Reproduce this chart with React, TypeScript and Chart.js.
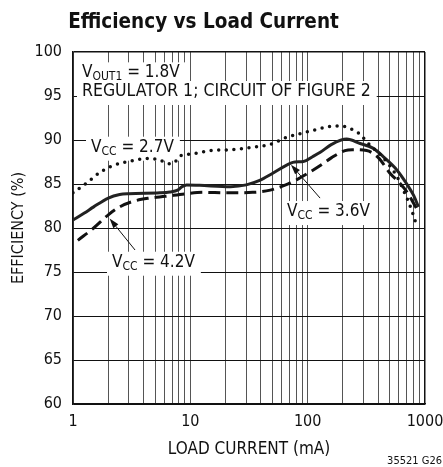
import { useEffect, useRef } from "react";
import { Chart, registerables } from "chart.js";

Chart.register(...registerables);

// ---------- text ----------
const TITLE = "Efficiency vs Load Current";
const X_TITLE = "LOAD CURRENT (mA)";
const Y_TITLE = "EFFICIENCY (%)";
const FOOTNOTE = "35521 G26";

// ---------- axes ----------
const X_MIN = 1;
const X_MAX = 1000;
const X_GRID = [
  1, 2, 3, 4, 5, 6, 7, 8, 9,
  10, 20, 30, 40, 50, 60, 70, 80, 90,
  100, 200, 300, 400, 500, 600, 700, 800, 900,
  1000,
];
const X_LABELS = [1, 10, 100, 1000];
const Y_MIN = 60;
const Y_MAX = 100;
const Y_STEP = 5;

// ---------- series: load current (mA) and efficiency (%) ----------
const I_27 = [1, 1.3, 1.65, 2.1, 3.2, 4.4, 5.5, 6.6, 7.4, 8.2, 10, 15, 22, 35, 48, 66, 85, 112, 150, 190, 230, 271, 340, 420, 505, 580, 655, 771, 861];
const EFF_27 = [84.0, 85.1, 86.2, 87.0, 87.65, 87.9, 87.7, 87.3, 87.5, 88.2, 88.4, 88.8, 88.9, 89.2, 89.5, 90.3, 90.7, 91.1, 91.5, 91.6, 91.3, 90.8, 89.4, 88.3, 87.0, 85.8, 84.3, 82.0, 80.0];

const I_36 = [1, 1.25, 1.5, 2.0, 2.5, 3.0, 5.5, 6.7, 7.8, 8.5, 9.3, 12, 22, 30, 39, 50, 71, 78, 92, 110, 128, 160, 215, 280, 363, 450, 575, 700, 800, 880];
const EFF_36 = [80.9, 81.7, 82.4, 83.4, 83.8, 83.9, 84.0, 84.1, 84.3, 84.7, 84.9, 84.85, 84.7, 84.9, 85.4, 86.2, 87.35, 87.5, 87.55, 88.1, 88.6, 89.5, 90.1, 89.6, 89.05, 88.0, 86.6, 85.0, 83.7, 82.4];

const I_42 = [1.1, 1.5, 2.0, 2.5, 3.2, 4.5, 6.1, 9.3, 13, 20, 34, 48, 65, 81, 100, 128, 160, 208, 240, 318, 400, 505, 600, 700, 850];
const EFF_42 = [78.6, 80.0, 81.5, 82.4, 83.0, 83.4, 83.6, 83.9, 84.05, 84.0, 84.05, 84.3, 84.9, 85.5, 86.2, 87.1, 88.0, 88.8, 88.9, 88.8, 88.0, 86.2, 85.2, 84.1, 82.2];

// ---------- annotations (anchored in data coordinates) ----------
type Part = [string, boolean];
const NOTE_VOUT: Part[] = [["V", false], ["OUT1", true], [" = 1.8V", false]];
const NOTE_REG: Part[] = [["REGULATOR 1; CIRCUIT OF FIGURE 2", false]];
const NOTE_27: Part[] = [["V", false], ["CC", true], [" = 2.7V", false]];
const NOTE_36: Part[] = [["V", false], ["CC", true], [" = 3.6V", false]];
const NOTE_42: Part[] = [["V", false], ["CC", true], [" = 4.2V", false]];

const NOTES: { parts: Part[]; at: [number, number]; size: number }[] = [
  { parts: NOTE_VOUT, at: [1.193, 97.12], size: 17 },
  { parts: NOTE_REG, at: [1.193, 95.0], size: 17.5 },
  { parts: NOTE_27, at: [1.424, 88.67], size: 17 },
  { parts: NOTE_36, at: [66.7, 81.36], size: 17 },
  { parts: NOTE_42, at: [2.15, 75.6], size: 17 },
];

const ARROWS: { from: [number, number]; to: [number, number] }[] = [
  { from: [127.6, 83.4], to: [72, 87.2] },
  { from: [3.38, 77.5], to: [2.05, 81.08] },
];

const FONT = "'Liberation Sans Narrow', 'Arial Narrow', 'DejaVu Sans Condensed', sans-serif";
const SUB_SIZE = 12;

function partsWidth(ctx: CanvasRenderingContext2D, parts: Part[], size: number) {
  let w = 0;
  for (const [t, sub] of parts) {
    ctx.font = `${sub ? SUB_SIZE : size}px ${FONT}`;
    w += ctx.measureText(t).width;
  }
  return w;
}

function drawParts(ctx: CanvasRenderingContext2D, parts: Part[], x: number, y: number, size: number) {
  let cx = x;
  for (const [t, sub] of parts) {
    ctx.font = `${sub ? SUB_SIZE : size}px ${FONT}`;
    ctx.fillText(t, cx, sub ? y + 3 : y);
    cx += ctx.measureText(t).width;
  }
}

const annotationPlugin = {
  id: "annotations",
  beforeDatasetsDraw(chart: any) {
    const { ctx } = chart;
    const xs = chart.scales.x;
    const ys = chart.scales.y;
    ctx.save();
    ctx.fillStyle = "#ffffff";
    for (const n of NOTES) {
      const x = xs.getPixelForValue(n.at[0]);
      const y = ys.getPixelForValue(n.at[1]);
      const w = partsWidth(ctx, n.parts, n.size);
      ctx.fillRect(x - 5, y - 15, w + 11, 24);
    }
    ctx.fillStyle = "#111111";
    ctx.textBaseline = "alphabetic";
    ctx.textAlign = "left";
    for (const n of NOTES) {
      const x = xs.getPixelForValue(n.at[0]);
      const y = ys.getPixelForValue(n.at[1]);
      drawParts(ctx, n.parts, x, y, n.size);
    }
    ctx.restore();
  },
  afterDatasetsDraw(chart: any) {
    const { ctx } = chart;
    const xs = chart.scales.x;
    const ys = chart.scales.y;
    ctx.save();
    ctx.strokeStyle = "#111111";
    ctx.fillStyle = "#111111";
    ctx.lineWidth = 1;
    for (const a of ARROWS) {
      const x0 = xs.getPixelForValue(a.from[0]);
      const y0 = ys.getPixelForValue(a.from[1]);
      const x1 = xs.getPixelForValue(a.to[0]);
      const y1 = ys.getPixelForValue(a.to[1]);
      const ang = Math.atan2(y1 - y0, x1 - x0);
      const len = 10;
      const half = 3.2;
      const bx = x1 - len * Math.cos(ang);
      const by = y1 - len * Math.sin(ang);
      ctx.beginPath();
      ctx.moveTo(x0, y0);
      ctx.lineTo(bx, by);
      ctx.stroke();
      ctx.beginPath();
      ctx.moveTo(x1, y1);
      ctx.lineTo(bx + half * Math.sin(ang), by - half * Math.cos(ang));
      ctx.lineTo(bx - half * Math.sin(ang), by + half * Math.cos(ang));
      ctx.closePath();
      ctx.fill();
    }
    ctx.restore();
  },
  afterDraw(chart: any) {
    const { ctx } = chart;
    ctx.save();
    ctx.fillStyle = "#111111";
    ctx.textBaseline = "alphabetic";
    ctx.textAlign = "center";
    ctx.font = `bold 20.5px ${FONT}`;
    ctx.fillText(TITLE, 203.5, 28);
    ctx.textAlign = "right";
    ctx.font = `11px ${FONT}`;
    ctx.fillText(FOOTNOTE, 442, 464);
    ctx.restore();
  },
};

export default function App() {
  const ref = useRef<HTMLCanvasElement | null>(null);

  useEffect(() => {
    const canvas = ref.current;
    if (!canvas) return;
    const line = (xs: number[], ys: number[]) => xs.map((x, i) => ({ x, y: ys[i] }));
    const chart = new Chart(canvas, {
      type: "line",
      data: {
        datasets: [
          {
            label: "VCC = 2.7V",
            data: line(I_27, EFF_27),
            borderColor: "#111111",
            borderWidth: 3.5,
            borderDash: [0, 7.6],
            borderCapStyle: "round",
            pointRadius: 0,
            cubicInterpolationMode: "monotone",
          },
          {
            label: "VCC = 3.6V",
            data: line(I_36, EFF_36),
            borderColor: "#222222",
            borderWidth: 3,
            pointRadius: 0,
            cubicInterpolationMode: "monotone",
          },
          {
            label: "VCC = 4.2V",
            data: line(I_42, EFF_42),
            borderColor: "#111111",
            borderWidth: 3,
            borderDash: [12, 6],
            pointRadius: 0,
            cubicInterpolationMode: "monotone",
          },
        ],
      },
      options: {
        responsive: false,
        animation: false,
        layout: { padding: { top: 52, right: 18, bottom: 0, left: 0 } },
        plugins: {
          legend: { display: false },
          tooltip: { enabled: false },
          title: { display: false },
        },
        scales: {
          x: {
            type: "logarithmic",
            min: X_MIN,
            max: X_MAX,
            afterBuildTicks: (scale: any) => {
              scale.ticks = X_GRID.map((v) => ({ value: v }));
            },
            afterFit: (scale: any) => {
              scale.height = 63;
              scale.paddingLeft = 0;
              scale.paddingRight = 0;
            },
            ticks: {
              autoSkip: false,
              maxRotation: 0,
              minRotation: 0,
              padding: 8,
              color: "#111111",
              font: { family: FONT, size: 16 },
              callback: (v: any) => (X_LABELS.includes(Number(v)) ? String(v) : ""),
            },
            grid: {
              color: (c: any) => (c.tick && c.tick.value === X_MAX ? "#111111" : "#555555"),
              lineWidth: (c: any) => (c.tick && c.tick.value === X_MAX ? 1.5 : 1),
              drawTicks: false,
            },
            border: { display: true, color: "#111111", width: 1.5 },
            title: {
              display: true,
              text: X_TITLE,
              color: "#111111",
              font: { family: FONT, size: 17 },
              padding: { top: 0, bottom: 7 },
            },
          },
          y: {
            type: "linear",
            min: Y_MIN,
            max: Y_MAX,
            afterFit: (scale: any) => {
              scale.width = 73;
            },
            ticks: {
              stepSize: Y_STEP,
              padding: 11,
              color: "#111111",
              font: { family: FONT, size: 16 },
            },
            grid: {
              color: "#111111",
              lineWidth: (c: any) => (c.tick && c.tick.value === Y_MAX ? 1.5 : 1),
              drawTicks: false,
            },
            border: { display: true, color: "#111111", width: 1.5 },
            title: {
              display: true,
              text: Y_TITLE,
              color: "#111111",
              font: { family: FONT, size: 16 },
              padding: { top: 9, bottom: 0 },
            },
          },
        },
      },
      plugins: [annotationPlugin],
    } as any);
    return () => chart.destroy();
  }, []);

  return (
    <div style={{ position: "fixed", left: 0, top: 0, width: 443, height: 467, background: "#ffffff" }}>
      <canvas ref={ref} width={443} height={467} style={{ width: 443, height: 467, display: "block" }} />
    </div>
  );
}
